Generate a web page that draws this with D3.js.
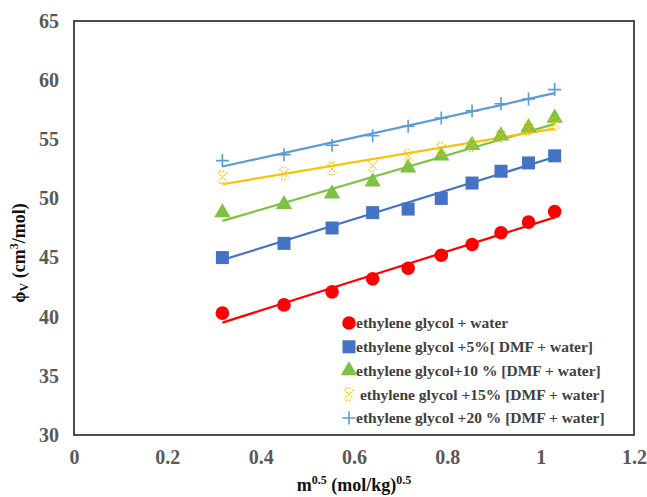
<!DOCTYPE html>
<meta charset="utf-8">
<style>
body { margin: 0; background: #fff; }
</style>
<svg width="647" height="497"></svg>
<script src="https://cdn.jsdelivr.net/npm/d3@7"></script>
<script>
var xValues = [0.318, 0.45, 0.553, 0.64, 0.716, 0.787, 0.853, 0.915, 0.974, 1.03];

var seriesNames = [
  "ethylene glycol + water",
  "ethylene glycol +5%[ DMF + water]",
  "ethylene glycol+10 % [DMF + water]",
  " ethylene glycol +15% [DMF + water]",
  "ethylene glycol +20 % [DMF + water]"
];
var seriesColors = ["#ff0000", "#4472c4", "#7dc242", "#ffc000", "#5b9bd5"];
var seriesMarkers = ["circle", "square", "triangle", "star", "cross"];

var egWater  = [40.3, 41.0, 42.1, 43.2, 44.1, 45.2, 46.1, 47.1, 48.0, 48.9];
var eg5      = [45.0, 46.2, 47.5, 48.8, 49.1, 50.0, 51.3, 52.3, 53.0, 53.6];
var eg10     = [48.8, 49.5, 50.4, 51.4, 52.6, 53.6, 54.5, 55.3, 56.0, 56.8];
var eg15     = [51.8, 52.1, 52.5, 52.8, 53.6, 54.2, 54.5, 55.3, 55.9, 56.3];
var eg20     = [53.2, 53.7, 54.5, 55.3, 56.1, 56.8, 57.4, 58.0, 58.4, 59.2];
var seriesValues = [egWater, eg5, eg10, eg15, eg20];

// trend line values at first and last x
var fitStart = [39.5, 44.8, 48.1, 51.2, 52.7];
var fitEnd   = [48.4, 53.5, 56.3, 55.9, 58.9];

var xTicks = [0, 0.2, 0.4, 0.6, 0.8, 1, 1.2];
var yTicks = [30, 35, 40, 45, 50, 55, 60, 65];

var serif = "Liberation Serif";

var svg = d3.select("svg"),
    margin = {top: 21, right: 13, bottom: 62, left: 74},
    width = +svg.attr("width") - margin.left - margin.right,
    height = +svg.attr("height") - margin.top - margin.bottom,
    g = svg.append("g").attr("transform", "translate(" + margin.left + "," + margin.top + ")");

var x = d3.scaleLinear().domain([0, 1.2]).range([0, width]);
var y = d3.scaleLinear().domain([30, 65]).range([height, 0]);

g.append("g")
    .attr("class", "axis axis--x")
    .attr("transform", "translate(0," + height + ")")
    .call(d3.axisBottom(x).tickValues(xTicks).tickSize(0).tickPadding(15).tickFormat(d3.format("")))
    .call(function(a) { a.select(".domain").remove(); });

g.append("g")
    .attr("class", "axis axis--y")
    .call(d3.axisLeft(y).tickValues(yTicks).tickSize(0).tickPadding(15))
    .call(function(a) { a.select(".domain").remove(); });

g.selectAll(".tick text")
    .attr("font-family", serif)
    .attr("font-weight", "bold")
    .attr("font-size", 20)
    .attr("fill", "#595959");

g.append("rect")
    .attr("width", width)
    .attr("height", height)
    .attr("fill", "none")
    .attr("stroke", "#222")
    .attr("stroke-width", 1.6);

// trend lines
var line = d3.line()
    .x(function(d) { return x(d[0]); })
    .y(function(d) { return y(d[1]); });

seriesValues.forEach(function(vals, i) {
  g.append("path")
      .datum([[xValues[0], fitStart[i]], [xValues[xValues.length - 1], fitEnd[i]]])
      .attr("fill", "none")
      .attr("stroke", seriesColors[i])
      .attr("stroke-width", 2.2)
      .attr("d", line);
});

function drawMarker(sel, type, color) {
  if (type === "circle") {
    sel.append("circle").attr("r", 6.8).attr("fill", color);
  } else if (type === "square") {
    sel.append("rect").attr("x", -6.5).attr("y", -6.5).attr("width", 13).attr("height", 13).attr("fill", color);
  } else if (type === "triangle") {
    sel.append("path").attr("d", d3.symbol(d3.symbolTriangle, 115)()).attr("fill", color);
  } else if (type === "star") {
    sel.append("path")
        .attr("d", "M-4.5,-4.5L4.5,4.5M4.5,-4.5L-4.5,4.5M-3,-6L3,-6M-3,6L3,6")
        .attr("stroke", color)
        .attr("stroke-width", 1.5)
        .attr("stroke-dasharray", "1.5,1.5")
        .attr("fill", "none");
  } else {
    sel.append("path")
        .attr("d", "M-6.5,0L6.5,0M0,-6.5L0,6.5")
        .attr("stroke", color)
        .attr("stroke-width", 1.6)
        .attr("fill", "none");
  }
}

seriesValues.forEach(function(vals, i) {
  g.append("g")
    .selectAll("g")
    .data(vals)
    .enter().append("g")
      .attr("transform", function(d, j) { return "translate(" + x(xValues[j]) + "," + y(d) + ")"; })
      .each(function() { drawMarker(d3.select(this), seriesMarkers[i], seriesColors[i]); });
});

// legend
var legend = g.append("g")
    .attr("class", "legend")
    .attr("transform", "translate(275,302)");

seriesNames.forEach(function(name, i) {
  var row = legend.append("g").attr("transform", "translate(0," + (i * 23.75) + ")");
  drawMarker(row, seriesMarkers[i], seriesColors[i]);
  row.append("text")
      .attr("x", 7)
      .attr("dy", "0.35em")
      .attr("font-family", serif)
      .attr("font-weight", "bold")
      .attr("font-size", 15.5)
      .attr("fill", "#404040")
      .attr("xml:space", "preserve")
      .text(name);
});

// axis titles
var xTitle = svg.append("text")
    .attr("x", margin.left + width / 2)
    .attr("y", 491)
    .attr("text-anchor", "middle")
    .attr("font-family", serif)
    .attr("font-weight", "bold")
    .attr("font-size", 18)
    .attr("fill", "#111");
xTitle.append("tspan").text("m");
xTitle.append("tspan").attr("font-size", 12).attr("dy", -7).text("0.5");
xTitle.append("tspan").attr("dy", 7).text(" (mol/kg)");
xTitle.append("tspan").attr("font-size", 12).attr("dy", -7).text("0.5");

var yTitle = svg.append("text")
    .attr("transform", "translate(25," + 253 + ") rotate(-90)")
    .attr("text-anchor", "middle")
    .attr("font-family", serif)
    .attr("font-weight", "bold")
    .attr("font-size", 18)
    .attr("fill", "#111");
yTitle.append("tspan").text("ϕ");
yTitle.append("tspan").attr("font-size", 12).attr("dy", 3).text("V");
yTitle.append("tspan").attr("dy", -3).text(" (cm");
yTitle.append("tspan").attr("font-size", 12).attr("dy", -7).text("3");
yTitle.append("tspan").attr("dy", 7).text("/mol)");
</script>
